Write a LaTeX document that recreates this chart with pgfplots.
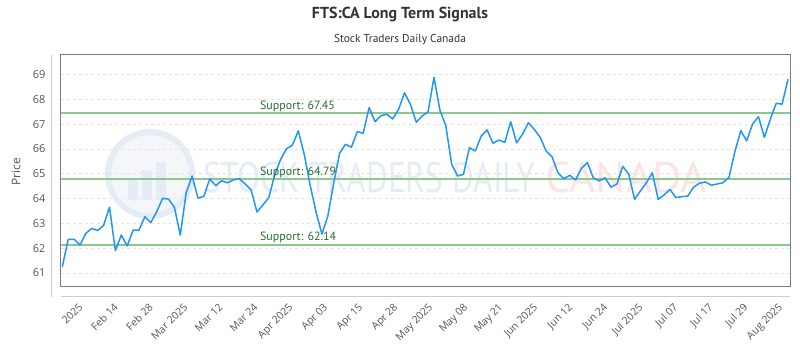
\documentclass[border=0pt]{standalone}
\usepackage{fontspec}
\setmainfont{Open Sans}
\newfontfamily\ptsans{PT Sans}
\usepackage{pgfplots}
\pgfplotsset{compat=1.18}
\definecolor{lineblue}{RGB}{33,150,243}
\definecolor{supgreen}{RGB}{140,200,140}
\definecolor{suptext}{RGB}{40,110,50}
\definecolor{gridc}{RGB}{228,228,228}
\definecolor{framec}{RGB}{125,125,125}
\definecolor{lightframe}{RGB}{205,205,205}
\definecolor{ticktext}{RGB}{85,85,85}
\definecolor{titlec}{RGB}{51,51,51}
\definecolor{wmblue}{RGB}{230,236,245}
\definecolor{wmred}{RGB}{253,228,228}
\begin{document}
\begin{tikzpicture}
\fill[white] (0,0) rectangle (800bp,350bp);
\path[use as bounding box] (0,0) rectangle (800bp,350bp);
% watermark
\fill[wmblue!45] (150bp,176bp) circle (42bp);
\draw[wmblue, line width=6bp] (150bp,176bp) circle (42bp);
\fill[wmblue] (128bp,150bp) rectangle (138bp,172bp);
\fill[wmblue] (142bp,150bp) rectangle (152bp,180bp);
\fill[wmblue] (156bp,150bp) rectangle (166bp,188bp);
\node[anchor=west, inner sep=0, text=wmblue, xscale=0.78, font=\ptsans\fontsize{43}{43}\selectfont] at (203bp,172bp) {STOCK TRADERS DAILY};
\node[anchor=west, inner sep=0, text=wmred, xscale=1.05, font=\ptsans\fontsize{43}{43}\selectfont] at (545bp,172bp) {CANADA};
% titles
\node[font=\ptsans\bfseries\fontsize{16}{18}\selectfont, text=titlec] at (400bp,335bp) {FTS:CA Long Term Signals};
\node[font=\ptsans\fontsize{11.5}{13}\selectfont, text=titlec] at (400bp,310bp) {Stock Traders Daily Canada};
\node[rotate=90, font=\fontsize{12}{14}\selectfont, text=ticktext] at (16bp,178bp) {Price};
% outer axis lines
\draw[lightframe, line width=1bp] (51bp,53bp) -- (51bp,295bp);
\draw[lightframe, line width=1bp] (61bp,53bp) -- (790bp,53bp);
\begin{axis}[
  at={(61bp,64bp)}, anchor=south west,
  width=729bp, height=231bp, scale only axis,
  xmin=-0.22, xmax=123.34, ymin=60.476, ymax=69.79,
  axis line style={framec, line width=1bp},
  ytick={61,62,63,64,65,66,67,68,69},
  ymajorgrids, grid style={gridc, dash pattern=on 3bp off 3bp, line width=0.8bp},
  major tick length=0,
  /pgf/number format/assume math mode=true,
  yticklabel style={font=\fontsize{11}{11}\selectfont, text=ticktext, xshift=-12bp},
  xtick={3.5,9.43,15.36,21.29,27.22,33.15,39.08,45.01,50.94,56.87,62.8,68.73,74.66,80.59,86.52,92.45,98.38,104.31,110.24,116.17,122.1},
  xticklabels={2025,Feb 14,Feb 28,Mar 2025,Mar 12,Mar 24,Apr 2025,Apr 03,Apr 15,Apr 28,May 2025,May 08,May 21,Jun 2025,Jun 12,Jun 24,Jul 2025,Jul 07,Jul 17,Jul 29,Aug 2025},
  xticklabel style={font=\fontsize{10.5}{11}\selectfont, text=ticktext, xshift=-5bp, yshift=-15bp, rotate=45, anchor=north east, inner sep=1bp},
]
\addplot[supgreen, line width=2bp, forget plot] coordinates {(-0.22,67.45) (123.34,67.45)};
\addplot[supgreen, line width=2bp, forget plot] coordinates {(-0.22,64.79) (123.34,64.79)};
\addplot[supgreen, line width=2bp, forget plot] coordinates {(-0.22,62.14) (123.34,62.14)};
\addplot[lineblue, line width=1.5bp, mark=none, line join=round] table {
x y
0 61.25
1 62.36
2 62.36
3 62.13
4 62.60
5 62.80
6 62.71
7 62.92
8 63.65
9 61.90
10 62.53
11 62.09
12 62.73
13 62.73
14 63.27
15 63.03
16 63.47
17 64.01
18 63.98
19 63.65
20 62.53
21 64.24
22 64.91
23 64.02
24 64.09
25 64.80
26 64.52
27 64.72
28 64.64
29 64.75
30 64.80
31 64.59
32 64.35
33 63.46
34 63.74
35 64.04
36 64.95
37 65.58
38 66.01
39 66.15
40 66.73
41 65.79
42 64.55
43 63.47
44 62.57
45 63.29
46 64.62
47 65.83
48 66.19
49 66.07
50 66.70
51 66.63
52 67.67
53 67.10
54 67.34
55 67.40
56 67.21
57 67.60
58 68.27
59 67.80
60 67.08
61 67.33
62 67.50
63 68.89
64 67.57
65 66.94
66 65.38
67 64.91
68 64.98
69 66.05
70 65.92
71 66.52
72 66.77
73 66.23
74 66.36
75 66.27
76 67.10
77 66.25
78 66.59
79 67.06
80 66.79
81 66.47
82 65.92
83 65.69
84 65.04
85 64.80
86 64.94
87 64.75
88 65.22
89 65.45
90 64.84
91 64.71
92 64.84
93 64.46
94 64.59
95 65.30
96 64.99
97 63.97
98 64.31
99 64.64
100 65.04
101 63.97
102 64.15
103 64.37
104 64.04
105 64.08
106 64.10
107 64.46
108 64.62
109 64.67
110 64.54
111 64.59
112 64.64
113 64.86
114 65.89
115 66.74
116 66.33
117 67.01
118 67.30
119 66.47
120 67.20
121 67.84
122 67.81
123 68.81
};
\node[anchor=base west, inner sep=0, yshift=4bp, text=suptext, font=\ptsans\fontsize{12}{12}\selectfont] at (axis cs:33.5,67.45) {Support: 67.45};
\node[anchor=base west, inner sep=0, yshift=4bp, text=suptext, font=\ptsans\fontsize{12}{12}\selectfont] at (axis cs:33.5,64.79) {Support: 64.79};
\node[anchor=base west, inner sep=0, yshift=4bp, text=suptext, font=\ptsans\fontsize{12}{12}\selectfont] at (axis cs:33.5,62.14) {Support: 62.14};
\end{axis}
\end{tikzpicture}
\end{document}
